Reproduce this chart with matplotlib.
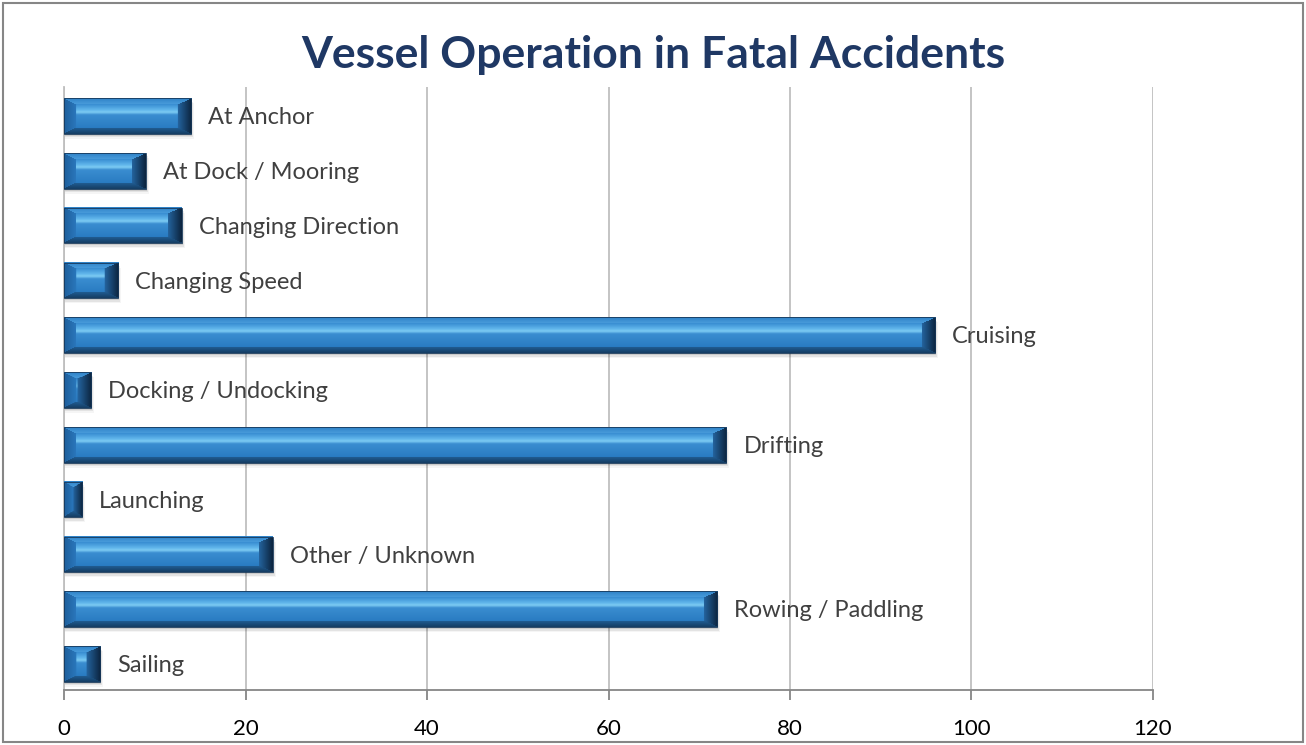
import numpy as np
import matplotlib.pyplot as plt
from matplotlib.patches import Rectangle
from matplotlib.colors import to_rgb

categories = ['At Anchor', 'At Dock / Mooring', 'Changing Direction', 'Changing Speed',
              'Cruising', 'Docking / Undocking', 'Drifting', 'Launching',
              'Other / Unknown', 'Rowing / Paddling', 'Sailing']
values = [14, 9, 13, 6, 96, 3, 73, 2, 23, 72, 4]
xticks = [0, 20, 40, 60, 80, 100, 120]

plt.rcParams['font.family'] = ['Lato', 'DejaVu Sans']

W, H, DPI = 13.06, 7.45, 100
fig = plt.figure(figsize=(W, H), dpi=DPI)
# plot area in pixels: x 64..1153, y 87..690
ax = fig.add_axes([64 / 1306, 1 - 690 / 745, (1153 - 64) / 1306, (690 - 87) / 745])

n = len(categories)
ypos = np.arange(n)
bh = 0.65
step = 54.8
ylo, yhi = (n - 1) + 26 / step, -(116 - 87) / step
ax.set_xlim(0, 120)
ax.set_ylim(ylo, yhi)

px_per_unit = (1153 - 64) / 120
bar_px_h = bh * (690 - 87) / (ylo - yhi)


def mix(c1, c2, t):
    return np.array(to_rgb(c1)) * (1 - t) + np.array(to_rgb(c2)) * t


def bevel_image(wpx, hpx, bt=6, bb=6, bl=12, br=14):
    wpx = max(int(round(wpx)), 2)
    hpx = max(int(round(hpx)), 2)
    bl = min(bl, wpx / 2)
    br = min(br, wpx / 2)
    img = np.zeros((hpx, wpx, 3))
    stops = [(0.0, '#3a8fd3'), (0.22, '#5fb4ea'), (0.33, '#7ccbf3'), (0.45, '#3a8dd0'),
             (1.0, '#2a7cc2')]
    sp = np.array([s[0] for s in stops])
    sc = np.array([to_rgb(s[1]) for s in stops])
    for i in range(hpx):
        f = (i - bt) / max(hpx - bt - bb - 1, 1)
        f = min(max(f, 0), 1)
        face = np.array([np.interp(f, sp, sc[:, k]) for k in range(3)])
        for j in range(wpx):
            d = [i / bt, (hpx - 1 - i) / bb, j / bl, (wpx - 1 - j) / br]
            m = min(d)
            if m >= 1:
                img[i, j] = face
            else:
                k = d.index(m)
                if k == 0:
                    img[i, j] = mix('#3083c8', '#4a9ddc', i / bt)
                elif k == 1:
                    img[i, j] = mix('#163f66', '#215f96', (hpx - 1 - i) / bb)
                elif k == 2:
                    img[i, j] = mix('#1f5f9c', '#2a78bd', j / bl)
                else:
                    img[i, j] = mix('#0c2540', '#2566a2', (wpx - 1 - j) / br)
    return img


bars = ax.barh(ypos, values, height=bh, color='none', edgecolor='#17385a', lw=0.6, zorder=4)
for idx, rect in enumerate(bars):
    x0, y0 = rect.get_x(), rect.get_y()
    w, h = rect.get_width(), rect.get_height()
    # soft shadow
    for k, a in enumerate([0.10, 0.07, 0.04]):
        dx = (1.0 + k) / px_per_unit
        dy = (2.0 + 1.5 * k) / step
        ax.add_patch(Rectangle((x0, y0 + dy), w + dx, h, color='#000000', alpha=a,
                               lw=0, zorder=2))
    img = bevel_image(w * px_per_unit, bar_px_h)
    ax.imshow(img, extent=(x0, x0 + w, y0 + h, y0), aspect='auto', zorder=3,
              interpolation='bilinear')
    ax.text(x0 + w + 17 / px_per_unit, y0 + h / 2 + 0.03, categories[idx],
            va='center', ha='left', fontsize=17, color='#404040', zorder=5)

ax.set_xlim(0, 120)
ax.set_ylim(ylo, yhi)
ax.set_xticks(xticks)
ax.set_xticklabels([str(t) for t in xticks], fontsize=16, color='#000000')
ax.set_yticks([])
ax.grid(axis='x', color='#bfbfbf', lw=1.3, zorder=0)
ax.set_axisbelow(True)
for s in ['top', 'right']:
    ax.spines[s].set_visible(False)
ax.spines['bottom'].set_color('#868686')
ax.spines['bottom'].set_linewidth(1.3)
ax.spines['left'].set_color('#bfbfbf')
ax.spines['left'].set_linewidth(1.3)
ax.tick_params(axis='x', direction='out', length=7, width=1.3, color='#868686', pad=14)

fig.text(0.5, 1 - 55 / 745, 'Vessel Operation in Fatal Accidents', ha='center', va='center',
         fontsize=32, fontweight='bold', color='#1f3864')

fig.patches.append(Rectangle((3 / 1306, 3 / 745), 1 - 6 / 1306, 1 - 6 / 745,
                             transform=fig.transFigure, fill=False, edgecolor='#868686', lw=1.5))

fig.savefig('out.png', dpi=DPI)
